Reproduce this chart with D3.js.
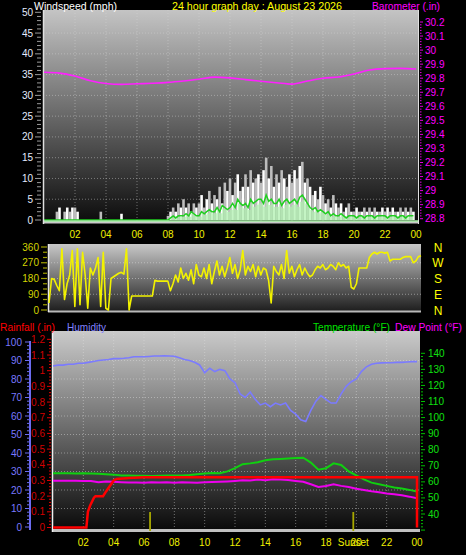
<!DOCTYPE html>
<html><head><meta charset="utf-8">
<script src="https://cdn.jsdelivr.net/npm/d3@7"></script>
<style>
body{margin:0;background:#000;}
svg{display:block;}
text{font-family:"Liberation Sans",Arial,sans-serif;}
</style>
</head><body>
<script>
// ---------- DATA ----------
const titleText = "24 hour graph day : August 23 2026";
const hourTickLabels = ["02","04","06","08","10","12","14","16","18","20","22","00"];
const windTicks = [0,5,10,15,20,25,30,35,40,45,50];
const baroTicks = [28.8,28.9,29,29.1,29.2,29.3,29.4,29.5,29.6,29.7,29.8,29.9,30,30.1,30.2];
const dirTicks = [0,90,180,270,360];
const compassLabels = ["N","E","S","W","N"];
const humTicks = [0,10,20,30,40,50,60,70,80,90,100];
const rainTicks = [0,0.1,0.2,0.3,0.4,0.5,0.6,0.7,0.8,0.9,1,1.1,1.2];
const tempTicks = [40,50,60,70,80,90,100,110,120,130,140];

// wind gust (mph), every 10 minutes from 00:00
const windGust = [
 0,0,0,0,0,2,  3,0,2,3,2,3,  3,2,0,0,0,0,  0,0,0,0,2,0,
 0,0,0,0,0,0,  1.5,0,0,0,0,0, 0,0,0,0,0,0,  0,0,0,0,0,0,
 1,2,3,2,4,3,  5,3,4,2,4,3,  4,6,3,5,7,4,  6,5,8,4,9,7,
 10,6,9,11,7,8, 11,8,12,9,10,11, 9,12,15,10,13,8, 11,9,12,10,8,11,
 9,12,10,13,14,9, 10,8,6,7,5,8, 6,4,5,3,6,4, 3,4,2,3,4,2,
 2,3,2,2,3,2,  3,2,3,2,2,3,  2,3,2,3,2,2,  3,2,3,2,3,2
];
// average wind speed (mph), every 10 minutes
const windAvg = [
 0,0,0,0,0,0, 0,0,0,0,0,0, 0,0,0,0,0,0, 0,0,0,0,0,0,
 0,0,0,0,0,0, 0,0,0,0,0,0, 0,0,0,0,0,0, 0,0,0,0,0,0,
 0,0.5,1,0.5,1,1, 1,1.5,1,2,1.5,1, 1,2,1.5,2,2.5,2, 2,3,2,3.5,3,2.5,
 3,4,3,5,4,3.5, 4,3,5,4,4.5,5, 5,4,6,4.5,5,4, 4,5,3.5,4.5,5,4,
 4.5,5,4,5.5,6,5, 4,3,2.5,3,2,2.5, 2,1.5,2,1,1.5,1, 1,1.5,1,0.5,1,1,
 1,0.5,1,1,0.5,1, 1,1,0.5,1,1,1, 1,0.5,1,1,1,0.5, 1,1,0.5,1,1,1
];
// barometer (in), hourly 00..24
const baro = [29.842,29.836,29.815,29.782,29.762,29.756,29.760,29.764,29.770,29.780,29.792,29.808,29.802,
 29.790,29.778,29.768,29.758,29.780,29.800,29.808,29.830,29.858,29.868,29.870,29.866];
// wind direction (deg), every 10 minutes
const windDir = [
 40,180,175,140,110,350,  60,150,200,340,20,350,  30,330,200,10,240,200,  240,300,20,330,10,0,
 180,190,200,210,215,205, 350,0,80,80,80,80,     80,80,80,80,80,170,    165,165,165,165,165,110,
 150,200,160,240,180,210, 170,230,150,260,200,190, 240,180,260,150,220,280, 200,250,190,240,300,210,
 260,180,230,340,200,250, 220,260,190,250,200,240, 230,170,40,250,220,200, 260,180,340,210,250,190,
 230,260,200,240,210,190, 200,230,250,240,260,230, 240,260,250,230,270,250, 260,240,250,130,120,150,
 240,240,240,240,300,320, 330,320,330,330,325,330, 280,290,290,290,290,300, 305,305,305,270,280,305, 310
];
// humidity (%), every 20 minutes
const humidity = [
 87,87.5,87.5, 88,88,88.5, 88.5,89,89.5, 90,90.3,90.5, 91,91,91.2, 91.5,92,92,
 92,92.2,92.4, 92.4,92.5,92.4, 92.3,91.5,90.5, 90,89,87.6, 83.4,85.8,84, 85.2,84.5,80,
 78,72,70, 73,69,66, 67,65,67, 66,67,63, 61,58,57, 63,68,71,
 69,67,67, 72,76,78.5, 80,84,86.6, 88,88.5,88.7, 88.8,88.8,89, 89,89.2,89.4, 89.4
];
// temperature (°F), every 30 minutes
const temperature = [65.3,65.3,65.3,65.2,65.3,65.2,65.0,64.8,64.5,64.0,63.9,63.8,63.8,63.7,63.8,63.9,
 63.9,64.0,64.2,64.8,65.2,65.5,65.4,66.5,68.5,71,71.5,72.2,73.5,74,74.2,74.5,74.8,75,72,67.6,
 68.5,71.5,70.5,66.5,64,61.5,59.5,58.5,57.5,56.5,55.8,55,54];
// dew point (°F), every 30 minutes
const dewPoint = [60.7,60.7,60.7,60.7,60.6,60.5,59.7,60.2,60,59.8,59.6,59.6,59.5,59.8,59.6,59.7,
 59.5,59.8,59.6,59.4,59.8,59.9,60.1,60.3,60.6,61,60.8,61.5,61,61.6,61.5,61.2,60.6,60.1,58.5,56.8,
 57.4,58.5,57.5,56.8,55.7,55,54.2,53.6,52.8,52.3,51.6,50.8,49.8];
// rainfall (in)
const rainHours = [0,2.2,2.3,2.45,2.7,2.8,3.3,3.5,4.0,4.2,5,6,24,24];
const rainValues = [0,0,0.1,0.14,0.19,0.2,0.2,0.23,0.3,0.31,0.315,0.32,0.32,0];
const sunEvents = [6.4, 19.8];

// ---------- CHART ----------
const W = 466, H = 555;
const svg = d3.select("body").append("svg").attr("width", W).attr("height", H);
const defs = svg.append("defs");
function grad(id, c0, c1) {
  const g = defs.append("linearGradient").attr("id", id).attr("x1",0).attr("y1",0).attr("x2",0).attr("y2",1);
  g.append("stop").attr("offset","0%").attr("stop-color", c0);
  g.append("stop").attr("offset","100%").attr("stop-color", c1);
}
grad("gTop", "#c4c4c4", "#0c0c0c");
grad("gDir", "#c8c8c8", "#1c1c1c");
grad("gBot", "#cacaca", "#080808");

const at = (arr, stepH) => arr.map((v, i) => ({t: i * stepH, v}));
const fontS = 10;
function label(x, y, txt, color, len, anchor) {
  return svg.append("text").attr("x", x).attr("y", y).attr("font-size", 11)
    .attr("text-anchor", anchor || "start").attr("fill", color)
    .attr("textLength", len).attr("lengthAdjust", "spacingAndGlyphs").text(txt);
}

// ===== top panel =====
const tp = {x0: 43, x1: 419, y0: 10, y1: 222};
svg.append("rect").attr("x", tp.x0).attr("y", tp.y0).attr("width", tp.x1 - tp.x0).attr("height", tp.y1 - tp.y0).attr("fill", "url(#gTop)");
const xT = d3.scaleLinear().domain([0, 24]).range([44, 416]);
const yW = d3.scaleLinear().domain([0, 50]).range([220, 12.3]);
const yB = d3.scaleLinear().domain([28.8, 30.2]).range([218.7, 22]);

// gridlines
svg.append("g").selectAll("line").data(d3.range(2, 24, 2)).join("line")
  .attr("x1", d => xT(d)).attr("x2", d => xT(d)).attr("y1", tp.y0).attr("y2", tp.y1)
  .attr("stroke", "#d8d8d8").attr("stroke-opacity", 0.45).attr("stroke-dasharray", "1,2");
svg.append("g").selectAll("line").data(windTicks.slice(1, -1)).join("line")
  .attr("x1", tp.x0).attr("x2", tp.x1).attr("y1", d => yW(d)).attr("y2", d => yW(d))
  .attr("stroke", "#d8d8d8").attr("stroke-opacity", 0.45).attr("stroke-dasharray", "1,2");

// gust bars
const gust = at(windGust, 1/6);
const barW = xT(1/6) - xT(0);
svg.append("g").selectAll("rect").data(gust.filter(d => d.v > 0)).join("rect")
  .attr("x", d => xT(d.t) - barW / 2).attr("width", barW)
  .attr("y", d => yW(d.v)).attr("height", d => yW(0) - yW(d.v))
  .attr("fill", (d, i) => i % 2 ? "#ffffff" : "#bdbdbd");

// avg wind area + line
const avg = at(windAvg, 1/6);
svg.append("path").datum(avg)
  .attr("d", d3.area().x(d => xT(d.t)).y0(yW(0)).y1(d => yW(d.v * 0.8)).curve(d3.curveStepAfter))
  .attr("fill", "#b0f0b0").attr("fill-opacity", 0.75);
svg.append("path").datum(avg)
  .attr("d", d3.line().x(d => xT(d.t)).y(d => yW(d.v)))
  .attr("fill", "none").attr("stroke", "#20d020").attr("stroke-width", 1.5);
// bottom light band
svg.append("rect").attr("x", tp.x0).attr("y", 220.5).attr("width", tp.x1 - tp.x0).attr("height", 3).attr("fill", "#c8c8c8");
svg.append("line").attr("x1", tp.x0).attr("x2", tp.x1).attr("y1", 221).attr("y2", 221).attr("stroke", "#90ff90").attr("stroke-width", 1.2);
svg.append("line").attr("x1", tp.x0 + 0.5).attr("x2", tp.x0 + 0.5).attr("y1", tp.y0).attr("y2", 224).attr("stroke", "#e0e0e0").attr("stroke-width", 1.5);
svg.append("line").attr("x1", tp.x1 - 0.5).attr("x2", tp.x1 - 0.5).attr("y1", tp.y0).attr("y2", 224).attr("stroke", "#e0e0e0").attr("stroke-width", 1);

// barometer
svg.append("path").datum(at(baro, 1))
  .attr("d", d3.line().x(d => xT(d.t)).y(d => yB(d.v)).curve(d3.curveMonotoneX))
  .attr("fill", "none").attr("stroke", "#ff20ff").attr("stroke-width", 1.6);

// left wind axis
const axL = svg.append("g");
axL.selectAll("line.minor").data(d3.range(0, 51, 1)).join("line")
  .attr("x1", d => d % 5 ? 37 : 35).attr("x2", 41).attr("y1", d => yW(d)).attr("y2", d => yW(d))
  .attr("stroke", "#9a9a9a").attr("stroke-width", 1);
axL.selectAll("text").data(windTicks).join("text")
  .attr("x", 33).attr("y", d => yW(d)).attr("dy", "0.35em").attr("text-anchor", "end")
  .attr("font-size", fontS).attr("fill", "#e4ecff").text(d => d);
// right barometer axis
const axR = svg.append("g");
axR.selectAll("line").data(d3.range(0, 71)).join("line")
  .attr("x1", 420).attr("x2", d => d % 5 ? 421.5 : 423)
  .attr("y1", d => yB(28.8 + d * 0.02)).attr("y2", d => yB(28.8 + d * 0.02))
  .attr("stroke", "#e000e0").attr("stroke-width", 1);
axR.selectAll("text").data(baroTicks).join("text")
  .attr("x", 425).attr("y", d => yB(d)).attr("dy", "0.35em")
  .attr("font-size", fontS).attr("fill", "#ff00ff").text(d => d);

// titles
label(34, 10, "Windspeed (mph)", "#ffffff", 83);
label(172, 10, titleText, "#ffff00", 170);
label(372, 10, "Barometer (.in)", "#ff00ff", 68);

// top hour labels
svg.append("g").selectAll("text").data(hourTickLabels).join("text")
  .attr("x", (d, i) => xT((i + 1) * 2)).attr("y", 238).attr("text-anchor", "middle")
  .attr("font-size", fontS).attr("fill", "#f0f000").text(d => d);

// ===== direction panel =====
const dp = {x0: 48, x1: 421, y0: 244, y1: 312};
svg.append("rect").attr("x", dp.x0).attr("y", dp.y0).attr("width", dp.x1 - dp.x0).attr("height", dp.y1 - dp.y0).attr("fill", "url(#gDir)");
const xD = d3.scaleLinear().domain([0, 24]).range([49, 421]);
const yD = d3.scaleLinear().domain([0, 360]).range([310, 247]);
svg.append("g").selectAll("line").data([90, 180, 270]).join("line")
  .attr("x1", dp.x0).attr("x2", dp.x1).attr("y1", d => yD(d)).attr("y2", d => yD(d))
  .attr("stroke", "#e0e0e0").attr("stroke-opacity", 0.5).attr("stroke-dasharray", "1,2");
svg.append("rect").attr("x", dp.x0).attr("y", 310.5).attr("width", dp.x1 - dp.x0).attr("height", 2).attr("fill", "#b8b8b8");
svg.append("line").attr("x1", dp.x0 + 0.5).attr("x2", dp.x0 + 0.5).attr("y1", dp.y0).attr("y2", dp.y1).attr("stroke", "#e8e8e8").attr("stroke-width", 1.5);
svg.append("path").datum(at(windDir, 1/6))
  .attr("d", d3.line().x(d => xD(d.t)).y(d => yD(d.v)))
  .attr("fill", "none").attr("stroke", "#f2f200").attr("stroke-width", 1.6).attr("stroke-linejoin", "round");
const axD = svg.append("g");
axD.selectAll("line").data(d3.range(0, 361, 30)).join("line")
  .attr("x1", d => d % 90 ? 43 : 41).attr("x2", 47).attr("y1", d => yD(d)).attr("y2", d => yD(d))
  .attr("stroke", "#a0a000").attr("stroke-width", 1.2);
axD.selectAll("text").data(dirTicks).join("text")
  .attr("x", 39).attr("y", d => yD(d)).attr("dy", "0.35em").attr("text-anchor", "end")
  .attr("font-size", fontS).attr("fill", "#d4d400").text(d => d);
svg.append("g").selectAll("text").data(compassLabels).join("text")
  .attr("x", 438).attr("y", (d, i) => yD(dirTicks[i])).attr("dy", "0.38em").attr("text-anchor", "middle")
  .attr("font-size", 12).attr("fill", "#ffff00").text(d => d);

// ===== bottom panel =====
const bp = {x0: 52, x1: 420, y0: 331, y1: 532};
svg.append("rect").attr("x", bp.x0).attr("y", bp.y0).attr("width", bp.x1 - bp.x0).attr("height", bp.y1 - bp.y0).attr("fill", "url(#gBot)");
const xB = d3.scaleLinear().domain([0, 24]).range([53, 417]);
const yH = d3.scaleLinear().domain([0, 100]).range([527, 342]);
const yR = d3.scaleLinear().domain([0, 1]).range([527.5, 370.7]);
const yTp = d3.scaleLinear().domain([40, 140]).range([514, 353.3]);

svg.append("g").selectAll("line").data(d3.range(2, 24, 2)).join("line")
  .attr("x1", d => xB(d)).attr("x2", d => xB(d)).attr("y1", bp.y0).attr("y2", 529)
  .attr("stroke", "#e0e0e0").attr("stroke-opacity", 0.45).attr("stroke-dasharray", "1,2");
svg.append("g").selectAll("line").data(humTicks.slice(1, -1)).join("line")
  .attr("x1", bp.x0).attr("x2", bp.x1).attr("y1", d => yH(d)).attr("y2", d => yH(d))
  .attr("stroke", "#e0e0e0").attr("stroke-opacity", 0.45).attr("stroke-dasharray", "1,2");
svg.append("rect").attr("x", bp.x0).attr("y", 529).attr("width", bp.x1 - bp.x0).attr("height", 3).attr("fill", "#c0c0c0");
svg.append("line").attr("x1", bp.x0 + 0.5).attr("x2", bp.x0 + 0.5).attr("y1", bp.y0).attr("y2", bp.y1).attr("stroke", "#f0f0f0").attr("stroke-width", 1.5);

// sunrise / sunset markers
svg.append("g").selectAll("line").data(sunEvents).join("line")
  .attr("x1", d => xB(d)).attr("x2", d => xB(d)).attr("y1", 512).attr("y2", 531)
  .attr("stroke", "#a8a800").attr("stroke-width", 1.8);

// humidity
svg.append("path").datum(at(humidity, 1/3))
  .attr("d", d3.line().x(d => xB(d.t)).y(d => yH(d.v)))
  .attr("fill", "none").attr("stroke", "#7b7bff").attr("stroke-width", 1.6);
// temperature
svg.append("path").datum(at(temperature, 0.5))
  .attr("d", d3.line().x(d => xB(d.t)).y(d => yTp(d.v)))
  .attr("fill", "none").attr("stroke", "#10d010").attr("stroke-width", 2);
// dew point
svg.append("path").datum(at(dewPoint, 0.5))
  .attr("d", d3.line().x(d => xB(d.t)).y(d => yTp(d.v)))
  .attr("fill", "none").attr("stroke", "#ee00ee").attr("stroke-width", 2);
// rain
svg.append("path").datum(rainHours.map((t, i) => ({t, v: rainValues[i]})))
  .attr("d", d3.line().x(d => xB(d.t)).y(d => yR(d.v)))
  .attr("fill", "none").attr("stroke", "#ff0000").attr("stroke-width", 2.5);

// humidity axis (blue)
const axH = svg.append("g");
axH.append("line").attr("x1", 30).attr("x2", 30).attr("y1", 341).attr("y2", 530).attr("stroke", "#6c6cf0").attr("stroke-width", 2);
axH.selectAll("line.t").data(d3.range(0, 101, 2)).join("line").attr("class", "t")
  .attr("x1", d => d % 10 ? 27 : 25).attr("x2", 30).attr("y1", d => yH(d)).attr("y2", d => yH(d))
  .attr("stroke", "#6c6cf0").attr("stroke-width", 1);
axH.selectAll("text").data(humTicks).join("text")
  .attr("x", 22).attr("y", d => yH(d)).attr("dy", "0.35em").attr("text-anchor", "end")
  .attr("font-size", fontS).attr("fill", "#7878ff").text(d => d);
// rain axis (red)
const axRn = svg.append("g");
axRn.selectAll("line").data(d3.range(0, 61)).join("line")
  .attr("x1", d => d % 5 ? 49 : 47).attr("x2", 51).attr("y1", d => yR(d * 0.02)).attr("y2", d => yR(d * 0.02))
  .attr("stroke", "#e00000").attr("stroke-width", 1);
axRn.selectAll("text").data(rainTicks).join("text")
  .attr("x", 45).attr("y", d => yR(d)).attr("dy", "0.35em").attr("text-anchor", "end")
  .attr("font-size", fontS).attr("fill", "#d00000").text(d => d);
// temperature axis (green)
const axTp = svg.append("g");
axTp.selectAll("line").data(d3.range(0, 56)).join("line")
  .attr("x1", 421).attr("x2", d => d % 5 ? 423 : 425)
  .attr("y1", d => yTp(30 + d * 2)).attr("y2", d => yTp(30 + d * 2))
  .attr("stroke", "#00c000").attr("stroke-width", 1);
axTp.selectAll("text").data(tempTicks).join("text")
  .attr("x", 428).attr("y", d => yTp(d)).attr("dy", "0.35em")
  .attr("font-size", fontS).attr("fill", "#10e010").text(d => d);

// bottom legends
label(0, 331, "Rainfall (.in)", "#ff0000", 55);
label(67, 331, "Humidity", "#8080ff", 39);
label(313, 331, "Temperature (°F)", "#00e000", 77);
label(395, 331, "Dew Point (°F)", "#ff00ff", 67);

// bottom hour labels (the "20" label sits under the sunset marker label, as in the source)
svg.append("g").selectAll("text").data(hourTickLabels).join("text")
  .attr("x", (d, i) => xB((i + 1) * 2)).attr("y", 546).attr("text-anchor", "middle")
  .attr("font-size", fontS).attr("fill", "#f0f000").text(d => d);
svg.append("text").attr("x", xB(sunEvents[1])).attr("y", 546).attr("text-anchor", "middle")
  .attr("font-size", fontS).attr("fill", "#f0f000").text("Sunset");
</script>
</body></html>
